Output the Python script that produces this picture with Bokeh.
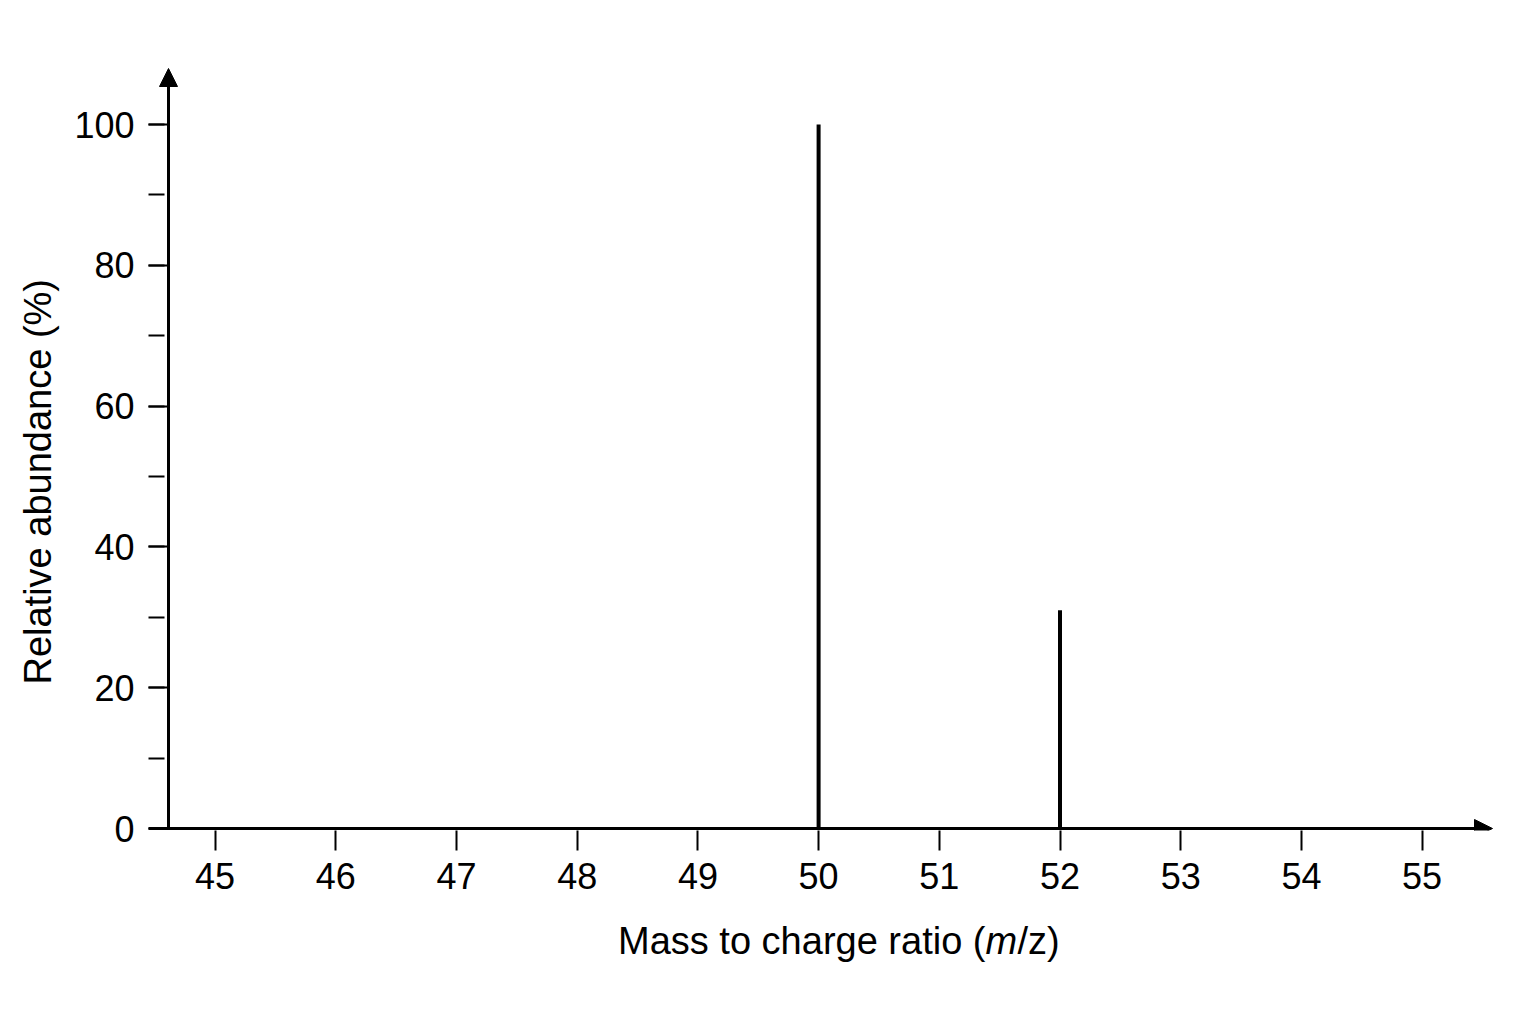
import math

from bokeh.embed import file_html
from bokeh.layouts import column, row
from bokeh.models import Arrow, FixedTicker, Label, NormalHead, Range1d, SingleIntervalTicker
from bokeh.plotting import figure
from bokeh.resources import INLINE

# mass spectrum peaks
mz = [50, 52]
abundance = [100, 31]

x_ticks = [45, 46, 47, 48, 49, 50, 51, 52, 53, 54, 55]
y_tick_step = 20

x_title_left = "Mass to charge ratio ("
x_title_italic = "m"
x_title_right = "/z)"
y_title = "Relative abundance (%)"

FONT = "Liberation Sans"

# page layout, pixels
W, H = 1520, 1000
left_w = 70            # strip holding the y title
main_h = 910           # main plot height, x title strip below it
frame_l, frame_r, frame_t, frame_b = 148, 1500, 56, 830
px_mz, px_pct = 120.7, 7.04
x45_px, zero_px = 214.6, 828

x_start = 45 - (x45_px - frame_l) / px_mz
x_end = x_start + (frame_r - frame_l) / px_mz
y_start = -(frame_b - zero_px) / px_pct
y_end = (zero_px - frame_t) / px_pct


def xpx(px):
    return x_start + (px - frame_l) / px_mz


def ypx(px):
    return (zero_px - px) / px_pct


def blank(width, height, x0, y0):
    # empty figure whose data units are page pixels (y downwards)
    f = figure(width=width, height=height,
               x_range=Range1d(x0, x0 + width), y_range=Range1d(y0 + height, y0),
               output_backend="svg", toolbar_location=None, title=None,
               x_axis_type=None, y_axis_type=None, min_border=0)
    f.outline_line_color = None
    f.grid.visible = False
    f.background_fill_color = "white"
    f.border_fill_color = "white"
    return f


p = figure(
    width=W - left_w, height=main_h,
    x_range=Range1d(x_start, x_end), y_range=Range1d(y_start, y_end),
    output_backend="svg", toolbar_location=None, title=None,
    min_border_left=frame_l - left_w, min_border_right=W - frame_r,
    min_border_top=frame_t, min_border_bottom=main_h - frame_b,
)
p.background_fill_color = "white"
p.border_fill_color = "white"
p.outline_line_color = None
p.grid.visible = False

# peaks
p.segment(x0=mz, y0=[0] * len(mz), x1=mz, y1=abundance,
          line_color="black", line_width=4, line_cap="butt")


def head():
    return NormalHead(size=18, fill_color="black", line_color="black", line_width=1)


# axis lines with arrow heads
y_axis_x = xpx(168)
p.add_layout(Arrow(x_start=y_axis_x, y_start=0, x_end=y_axis_x, y_end=ypx(68),
                   line_width=3, line_color="black", end=head()))
p.add_layout(Arrow(x_start=x_start, y_start=0, x_end=xpx(1492), y_end=0,
                   line_width=3, line_color="black", end=head()))

# x axis
xa = p.xaxis[0]
xa.ticker = FixedTicker(ticks=x_ticks)
xa.axis_line_color = None
xa.major_tick_in = 0
xa.major_tick_out = 20
xa.major_tick_line_width = 2
xa.major_tick_line_color = "black"
xa.minor_tick_line_color = None
xa.major_label_text_font = FONT
xa.major_label_text_font_size = "36px"
xa.major_label_text_color = "black"
xa.major_label_standoff = 12

# y axis
ya = p.yaxis[0]
ya.ticker = SingleIntervalTicker(interval=y_tick_step, num_minor_ticks=2)
ya.axis_line_color = None
ya.major_tick_in = 20
ya.major_tick_out = 0
ya.minor_tick_in = 16
ya.minor_tick_out = 0
ya.major_tick_line_width = 2
ya.minor_tick_line_width = 2
ya.major_tick_line_color = "black"
ya.minor_tick_line_color = "black"
ya.major_label_text_font = FONT
ya.major_label_text_font_size = "36px"
ya.major_label_text_color = "black"
ya.major_label_standoff = 14

title_style = dict(text_baseline="alphabetic", text_font=FONT, text_font_size="38px",
                   text_color="black")

# y title strip
left = blank(left_w, main_h, 0, 0)
left.add_layout(Label(x=37, y=500, text=y_title, angle=math.pi / 2,
                      text_align="center", **title_style))

# x title strip
bottom = blank(W, H - main_h, 0, main_h)
split = 985
base = 940
bottom.add_layout(Label(x=split, y=base, text=x_title_left, text_align="right", **title_style))
bottom.add_layout(Label(x=split, y=base, text=x_title_italic, text_align="left",
                        text_font_style="italic", **title_style))
bottom.add_layout(Label(x=split, y=base, x_offset=32, text=x_title_right, text_align="left",
                        **title_style))

layout = column(row(left, p, spacing=0), bottom, spacing=0)

open("out.html", "w").write(file_html(layout, INLINE))
